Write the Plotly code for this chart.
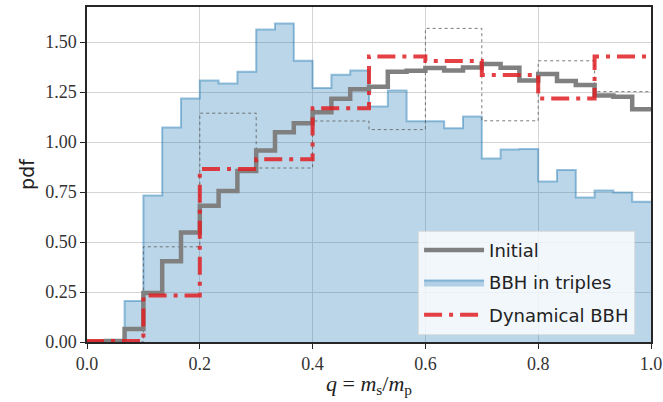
import numpy as np
import plotly.graph_objects as go

# Fine binning (30 bins on [0, 1])
initial_pdf = [0.00, 0.005, 0.065, 0.245, 0.404, 0.548, 0.681, 0.755, 0.855, 0.957,
               1.049, 1.094, 1.149, 1.216, 1.264, 1.276, 1.351, 1.356, 1.370, 1.358,
               1.373, 1.390, 1.371, 1.308, 1.340, 1.305, 1.285, 1.233, 1.226, 1.164]
triples_pdf = [0.00, 0.010, 0.205, 0.733, 1.072, 1.217, 1.308, 1.293, 1.351, 1.563,
               1.593, 1.406, 1.270, 1.336, 1.358, 1.177, 1.258, 1.104, 1.104, 1.069,
               1.127, 0.917, 0.962, 0.965, 0.802, 0.860, 0.723, 0.757, 0.748, 0.701]

# Coarse binning (10 bins on [0, 1])
dynamical_pdf = [0.005, 0.232, 0.865, 0.914, 1.169, 1.428, 1.405, 1.335, 1.217, 1.428]
reference_pdf = [0.000, 0.476, 1.144, 0.870, 1.105, 1.062, 1.568, 1.106, 1.406, 1.252]

x_ticks = [0.0, 0.2, 0.4, 0.6, 0.8, 1.0]
y_ticks = [0.0, 0.25, 0.5, 0.75, 1.0, 1.25, 1.5]


def step_outline(values):
    """Step outline of a histogram on [0, 1], rising from zero at the left end."""
    edges = np.linspace(0.0, 1.0, len(values) + 1)
    xs = [edges[0]] + list(edges)
    ys = [0.0] + list(values) + [values[-1]]
    return xs, ys


fig = go.Figure()

xs, ys = step_outline(triples_pdf)
fig.add_trace(go.Scatter(
    x=xs, y=ys, mode="lines", line_shape="hv", fill="tozeroy",
    fillcolor="rgba(31,119,180,0.30)",
    line=dict(color="rgba(31,119,180,0.45)", width=2),
    name="BBH in triples", legendrank=2, legendgroup="b",
))

xs, ys = step_outline(reference_pdf)
fig.add_trace(go.Scatter(
    x=xs, y=ys, mode="lines", line_shape="hv",
    line=dict(color="rgba(90,90,90,0.8)", width=1, dash="dot"),
    showlegend=False,
))

xs, ys = step_outline(initial_pdf)
fig.add_trace(go.Scatter(
    x=xs, y=ys, mode="lines", line_shape="hv",
    line=dict(color="#808080", width=4.5),
    name="Initial", legendrank=1, legendgroup="a",
))

xs, ys = step_outline(dynamical_pdf)
fig.add_trace(go.Scatter(
    x=xs, y=ys, mode="lines", line_shape="hv",
    line=dict(color="rgba(225,30,35,0.85)", width=4, dash="18px,7px,4px,7px"),
    name="Dynamical BBH", legendrank=3, legendgroup="c",
))

axis_common = dict(
    showgrid=True, gridcolor="#d4d4d4", gridwidth=1,
    showline=True, linecolor="#262626", linewidth=1.5, mirror=True,
    ticks="outside", ticklen=5, tickwidth=1.2, tickcolor="#262626",
    zeroline=False, automargin=False,
    tickfont=dict(family="Liberation Serif, DejaVu Serif, serif", size=18, color="#333333"),
)

fig.update_layout(
    width=663, height=402,
    margin=dict(l=87, r=12, t=7, b=60),
    paper_bgcolor="white", plot_bgcolor="white",
    xaxis=dict(
        range=[0, 1], tickvals=x_ticks, ticktext=[f"{v:.1f}" for v in x_ticks],
        title=dict(
            text="<i>q</i> = <i>m</i><sub>s</sub>/<i>m</i><sub>p</sub>",
            font=dict(family="Liberation Serif, DejaVu Serif, serif", size=22, color="#222222"),
            standoff=2,
        ),
        **axis_common,
    ),
    yaxis=dict(
        range=[0, 1.675], tickvals=y_ticks, ticktext=[f"{v:.2f}" for v in y_ticks],
        title=dict(text="pdf", font=dict(family="DejaVu Sans, sans-serif", size=19, color="#222222"),
                   standoff=6),
        **axis_common,
    ),
    legend=dict(
        x=0.587, y=0.332, xanchor="left", yanchor="top",
        bgcolor="rgba(255,255,255,0.8)", bordercolor="#dddddd", borderwidth=1,
        font=dict(family="DejaVu Sans, sans-serif", size=18, color="#222222"),
        itemwidth=60, tracegroupgap=6,
    ),
    showlegend=True,
)

fig.write_html("out.html")
